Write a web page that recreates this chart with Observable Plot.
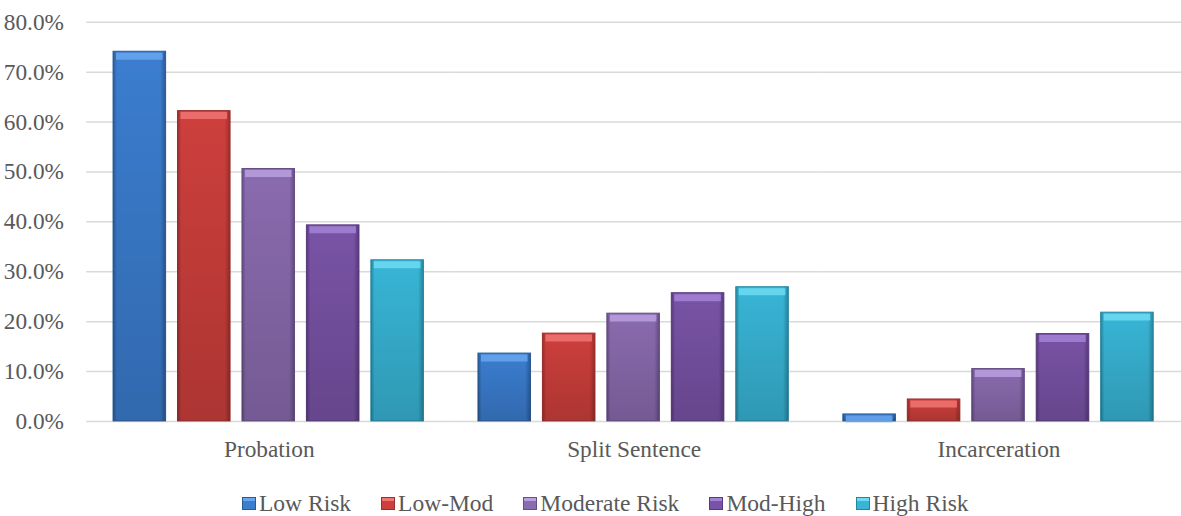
<!DOCTYPE html>
<html><head><meta charset="utf-8">
<script src="https://cdn.jsdelivr.net/npm/d3@7"></script>
<script src="https://cdn.jsdelivr.net/npm/@observablehq/plot@0.6"></script>
<style>
body{margin:0;background:#fff;}
#wrap{position:relative;width:1181px;height:516px;overflow:hidden;background:#fff;}
#legend{position:absolute;top:492px;left:242px;display:flex;align-items:center;font-family:"Liberation Serif","Times New Roman",serif;font-size:23.5px;color:#595959;line-height:23px;white-space:nowrap}
.item{display:flex;align-items:center;margin-right:30px}
.sw{width:14px;height:13px;margin-right:3px;box-sizing:border-box}
</style></head><body>
<div id="wrap"><div id="chart"></div><div id="legend"></div></div>
<script>
const groups = ["Probation", "Split Sentence", "Incarceration"];
const series = ["Low Risk", "Low-Mod", "Moderate Risk", "Mod-High", "High Risk"];
const probation = [74.1, 62.2, 50.6, 39.3, 32.3];
const splitSentence = [13.6, 17.6, 21.6, 25.7, 26.9];
const incarceration = [1.4, 4.4, 10.5, 17.5, 21.8];
const yTicks = [0, 10, 20, 30, 40, 50, 60, 70, 80];
const baseColors = ["#3b7dcf", "#cd3f3c", "#8a6baf", "#7953a6", "#38b5d6"];
const darkColors = ["#2a5a95", "#9a2e2c", "#654d85", "#573a7c", "#26869f"];
const lightColors = ["#6aa6ee", "#f07673", "#b9a0df", "#a383d6", "#6ddcf2"];

const valuesByGroup = [probation, splitSentence, incarceration];
const data = groups.flatMap((g, i) => series.map((s, j) => ({group: g, series: s, value: valuesByGroup[i][j]})));

const seriesMarks = series.flatMap((s, j) => {
  const sub = data.filter(d => d.series === s);
  return [
    Plot.barY(sub, {fx: "group", x: "series", y: "value", fill: `url(#side${j})`, stroke: darkColors[j], strokeWidth: 1}),
    Plot.barY(sub, {fx: "group", x: "series", y: "value", fill: "url(#shade)"}),
    Plot.tickY(sub, {fx: "group", x: "series", y: "value", stroke: lightColors[j], strokeWidth: 7, dy: 4.5, insetLeft: 3, insetRight: 3, strokeOpacity: 0.85})
  ];
});

const chart = Plot.plot({
  width: 1191,
  height: 473,
  marginLeft: 87,
  marginRight: 0,
  marginTop: 22,
  marginBottom: 48.5,
  style: {fontFamily: "'Liberation Serif', 'Times New Roman', serif", fontSize: "23.5px", color: "#595959", background: "white"},
  fx: {domain: groups, padding: 0, label: null},
  x: {domain: series, paddingInner: 0.18, paddingOuter: 0.41, axis: null},
  y: {domain: [0, 80], label: null},
  marks: [
    Plot.ruleY(yTicks, {stroke: "#d9d9d9", strokeWidth: 1.5}),
    ...seriesMarks,
    Plot.axisY(yTicks, {tickSize: 0, tickPadding: 23, tickFormat: d => d.toFixed(1) + "%", fill: "#595959", fontSize: 23.5, label: null}),
    Plot.axisFx({anchor: "bottom", tickSize: 0, tickPadding: 19, label: null, fill: "#595959", fontSize: 23.5})
  ]
});
document.getElementById("chart").appendChild(chart);

// gradient definitions
const svg = d3.select(chart);
const defs = svg.insert("defs", ":first-child");
baseColors.forEach((c, j) => {
  const g = defs.append("linearGradient").attr("id", `side${j}`).attr("x1", 0).attr("x2", 1).attr("y1", 0).attr("y2", 0);
  g.append("stop").attr("offset", "0").attr("stop-color", darkColors[j]);
  g.append("stop").attr("offset", "0.07").attr("stop-color", c);
  g.append("stop").attr("offset", "0.9").attr("stop-color", c);
  g.append("stop").attr("offset", "1").attr("stop-color", darkColors[j]);
});
const sh = defs.append("linearGradient").attr("id", "shade").attr("x1", 0).attr("x2", 0).attr("y1", 0).attr("y2", 1);
sh.append("stop").attr("offset", "0").attr("stop-color", "#000").attr("stop-opacity", 0);
sh.append("stop").attr("offset", "1").attr("stop-color", "#000").attr("stop-opacity", 0.16);

// legend
const legend = d3.select("#legend");
series.forEach((s, j) => {
  const it = legend.append("div").attr("class", "item");
  it.append("div").attr("class", "sw")
    .style("background", `linear-gradient(to bottom, ${lightColors[j]} 0 30%, ${baseColors[j]} 30% 100%)`)
    .style("box-shadow", `inset 0 0 0 1px ${darkColors[j]}`);
  it.append("span").text(s);
});
</script>
</body></html>
